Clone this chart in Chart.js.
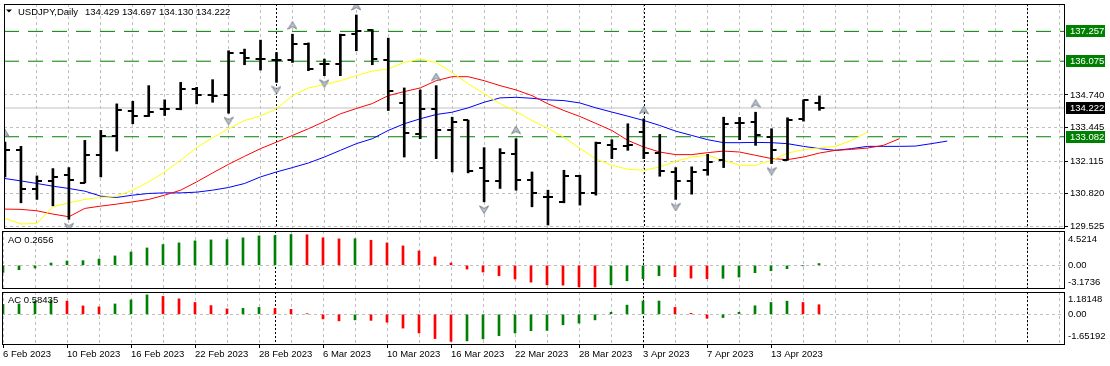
<!DOCTYPE html>
<html>
<head>
<meta charset="utf-8">
<script src="https://cdn.jsdelivr.net/npm/chart.js@4.4.1/dist/chart.umd.min.js"></script>
<style>
  html, body { margin: 0; padding: 0; background: #fff; }
  #wrap { position: relative; width: 1110px; height: 366px; overflow: hidden; }
  #wrap canvas { position: absolute; left: 0; top: 0; }
</style>
</head>
<body>
<div id="wrap">
  <canvas id="price" width="1110" height="366"></canvas>
  <canvas id="ao" width="1110" height="366"></canvas>
  <canvas id="ac" width="1110" height="366"></canvas>
</div>
<script>
// USDJPY daily bars, 6 Feb - 18 Apr 2023
var dates = ['6 Feb 2023', '7 Feb 2023', '8 Feb 2023', '9 Feb 2023', '10 Feb 2023', '13 Feb 2023', '14 Feb 2023', '15 Feb 2023',
  '16 Feb 2023', '17 Feb 2023', '20 Feb 2023', '21 Feb 2023', '22 Feb 2023', '23 Feb 2023', '24 Feb 2023', '27 Feb 2023',
  '28 Feb 2023', '1 Mar 2023', '2 Mar 2023', '3 Mar 2023', '6 Mar 2023', '7 Mar 2023', '8 Mar 2023', '9 Mar 2023',
  '10 Mar 2023', '13 Mar 2023', '14 Mar 2023', '15 Mar 2023', '16 Mar 2023', '17 Mar 2023', '20 Mar 2023', '21 Mar 2023',
  '22 Mar 2023', '23 Mar 2023', '24 Mar 2023', '27 Mar 2023', '28 Mar 2023', '29 Mar 2023', '30 Mar 2023', '31 Mar 2023',
  '3 Apr 2023', '4 Apr 2023', '5 Apr 2023', '6 Apr 2023', '7 Apr 2023', '10 Apr 2023', '11 Apr 2023', '12 Apr 2023',
  '13 Apr 2023', '14 Apr 2023', '17 Apr 2023', '18 Apr 2023'];

var open = [132.200, 132.570, 131.004, 131.320, 131.557, 131.253, 132.373, 133.107, 134.121, 133.923,
  134.170, 134.188, 134.977, 134.740, 134.740, 136.420, 136.180, 136.130, 136.121, 136.752,
  135.950, 135.963, 137.146, 137.316, 136.121, 134.409, 133.174, 134.188, 133.332, 133.726,
  131.860, 131.330, 132.413, 131.359, 130.700, 130.503, 131.517, 130.858, 132.740, 132.700,
  133.265, 132.436, 131.687, 131.320, 131.754, 132.176, 133.620, 133.659, 133.067, 132.176,
  133.793, 134.429];
var high = [132.870, 132.701, 131.529, 131.821, 131.860, 132.937, 133.332, 134.385, 134.488, 135.107,
  134.543, 135.237, 135.040, 135.344, 136.488, 136.555, 136.910, 136.420, 137.146, 136.800,
  136.160, 137.146, 137.908, 137.330, 136.989, 135.016, 134.937, 135.107, 133.856, 133.740,
  132.649, 132.610, 133.004, 131.687, 130.965, 131.754, 131.557, 132.870, 132.965, 133.596,
  133.793, 133.174, 131.860, 131.890, 132.385, 133.856, 133.850, 134.054, 133.399, 133.833,
  134.543, 134.697];
var low = [131.490, 130.464, 130.598, 130.346, 129.809, 131.253, 131.490, 132.515, 133.596, 133.884,
  133.923, 134.150, 134.385, 134.448, 134.014, 135.935, 135.726, 135.237, 136.026, 135.700,
  135.501, 135.501, 136.488, 135.935, 134.121, 132.278, 133.004, 132.215, 131.687, 131.650,
  130.503, 131.032, 130.965, 130.306, 129.584, 130.464, 130.373, 130.768, 132.215, 132.543,
  132.215, 131.517, 130.598, 130.807, 131.557, 131.860, 132.965, 132.740, 132.018, 132.150,
  133.700, 134.130];
var close = [132.570, 131.004, 131.320, 131.490, 131.359, 132.373, 133.107, 134.148, 133.923, 134.054,
  134.190, 134.977, 134.740, 134.712, 136.420, 136.200, 136.150, 136.110, 136.752, 135.766,
  135.970, 137.100, 137.276, 136.144, 134.910, 133.225, 134.188, 133.332, 133.659, 131.726,
  131.330, 132.436, 131.387, 130.858, 130.710, 131.517, 130.858, 132.831, 132.610, 132.750,
  132.452, 131.714, 131.320, 131.687, 132.081, 133.568, 133.640, 133.134, 132.570, 133.754,
  134.520, 134.222];

// Alligator lines (already shifted forward, so they run past the last bar)
var jaw = [131.426, 131.332, 131.229, 131.123, 131.032, 130.925, 130.728, 130.677, 130.768, 130.835,
  130.858, 130.858, 130.886, 130.965, 131.071, 131.229, 131.490, 131.687, 131.860, 132.042,
  132.278, 132.543, 132.807, 133.004, 133.332, 133.596, 133.793, 133.963, 134.054, 134.227,
  134.448, 134.622, 134.645, 134.606, 134.543, 134.515, 134.420, 134.227, 134.060, 133.897,
  133.726, 133.529, 133.304, 133.134, 132.965, 132.847, 132.847, 132.858, 132.847, 132.807,
  132.701, 132.610, 132.543, 132.610, 132.701, 132.701, 132.701, 132.712, 132.807, 132.910];
var teeth = [130.215, 130.204, 130.148, 130.018, 129.912, 130.243, 130.334, 130.413, 130.503, 130.598,
  130.768, 130.965, 131.292, 131.647, 131.990, 132.306, 132.610, 132.870, 133.134, 133.399,
  133.687, 133.990, 134.200, 134.397, 134.712, 134.870, 135.016, 135.304, 135.462, 135.462,
  135.304, 135.107, 134.937, 134.712, 134.385, 134.121, 133.884, 133.610, 133.330, 132.937,
  132.673, 132.476, 132.373, 132.373, 132.452, 132.515, 132.476, 132.346, 132.215, 132.176,
  132.278, 132.436, 132.543, 132.582, 132.633, 132.740, 133.004];
var lips = [129.848, 129.624, 129.651, 130.306, 130.464, 130.598, 130.677, 130.728, 130.965, 131.292,
  131.687, 132.148, 132.649, 133.044, 133.399, 133.726, 133.904, 134.188, 134.712, 135.016,
  135.146, 135.304, 135.501, 135.687, 135.766, 136.026, 136.160, 136.026, 135.620, 135.186,
  134.791, 134.397, 134.081, 133.726, 133.411, 133.056, 132.622, 132.200, 131.951, 131.794,
  131.754, 131.886, 132.109, 132.280, 132.346, 132.148, 131.951, 131.951, 132.148, 132.436,
  132.570, 132.633, 132.701, 132.937, 133.265];

// bars carrying a fractal mark
var fractalUp = [0, 18, 22, 27, 32, 40, 47];
var fractalDown = [4, 14, 17, 20, 30, 34, 42, 48];

var ao = [-1.03, -0.64, -0.39, 0.34, 0.64, 0.69, 0.93, 1.38, 1.96, 2.55,
  3.05, 3.29, 3.59, 3.73, 3.78, 4.03, 4.32, 4.37, 4.5214, 4.48,
  4.03, 3.88, 3.90, 3.68, 3.29, 2.85, 2.11, 1.23, 0.34, -0.54,
  -0.98, -1.52, -2.00, -2.46, -2.85, -2.90, -3.15, -3.1736, -2.85, -2.26,
  -1.96, -1.52, -1.67, -1.87, -1.96, -1.90, -1.72, -1.08, -0.79, -0.49,
  -0.05, 0.2656];
var ac = [0.60, 0.63, 0.80, 0.84, 0.80, 0.51, 0.45, 0.63, 0.88, 1.18148,
  1.09, 0.94, 0.72, 0.53, 0.33, 0.36, 0.42, 0.36, 0.30, 0.04,
  -0.28, -0.40, -0.34, -0.37, -0.48, -0.84, -1.14, -1.48, -1.65192, -1.62,
  -1.50, -1.30, -1.14, -1.00, -0.98, -0.64, -0.54, -0.34, 0.12, 0.56,
  0.80, 0.81, 0.42, 0.06, -0.24, -0.20, 0.12, 0.52, 0.72, 0.80,
  0.72, 0.58435];

var levels = [137.257, 136.075, 133.082];
var bid = 134.222;
var priceTicks = [129.525, 130.820, 132.115, 133.445, 134.740];
var priceTickLabels = ['129.525', '130.820', '132.115', '133.445', '134.740'];
var monthStarts = [17, 40, 64];
var gridTicks = [];
for (var g = 0; g <= 66; g += 2) gridTicks.push(g);
var labelEvery = 4;

var X_MIN = -0.0625, X_MAX = 66.3125;
var FONT = '9.5px "Liberation Sans", Arial, sans-serif';
var GRID = '#c0c0c0';

Chart.defaults.font.family = '"Liberation Sans", Arial, sans-serif';
Chart.defaults.font.size = 9.5;
Chart.defaults.color = '#000';

function tickImage(fromX) {
  var c = document.createElement('canvas');
  c.width = 12; c.height = 2;
  var cx = c.getContext('2d');
  cx.fillStyle = '#000';
  cx.fillRect(fromX, 0, 5, 2);
  return c;
}
var openTick = tickImage(1), closeTick = tickImage(6);

function fractalImage(up) {
  var c = document.createElement('canvas');
  c.width = 10; c.height = up ? 26 : 24;
  var cx = c.getContext('2d');
  cx.beginPath();
  if (up) { cx.moveTo(5, 0.5); cx.lineTo(9.5, 8); cx.lineTo(5, 5.5); cx.lineTo(0.5, 8); }
  else { cx.moveTo(0.5, 16); cx.lineTo(5, 23.5); cx.lineTo(9.5, 16); cx.lineTo(5, 18.5); }
  cx.closePath();
  cx.fillStyle = '#bcc3cb'; cx.fill();
  cx.strokeStyle = '#7b838d'; cx.lineWidth = 1; cx.stroke();
  return c;
}

function labelTickColor(ctx) {
  return ctx.tick && ctx.tick.label ? '#000' : 'rgba(0,0,0,0)';
}

function xAxis(showLabels) {
  return {
    type: 'linear', min: X_MIN, max: X_MAX, offset: false,
    afterBuildTicks: function (s) { s.ticks = gridTicks.map(function (v) { return { value: v }; }); },
    afterFit: function (s) { s.height = showLabels ? 22 : 0; s.paddingLeft = 0; s.paddingRight = 0; },
    grid: { color: GRID, offset: false, drawTicks: showLabels, tickLength: 4, tickColor: labelTickColor },
    border: { display: false, dash: [3, 3] },
    ticks: {
      display: showLabels, autoSkip: false, maxRotation: 0, align: 'start', padding: 1,
      callback: function (v) { return v % labelEvery === 0 && v < dates.length ? dates[v] : ''; }
    }
  };
}

function zeroAxis(min, max) {
  return {
    position: 'right', min: min, max: max,
    afterBuildTicks: function (s) { s.ticks = [{ value: 0 }]; },
    afterFit: function (s) { s.width = 46; s.paddingTop = 0; s.paddingBottom = 0; },
    grid: { color: GRID, drawTicks: false },
    border: { display: false, dash: [3, 3] },
    ticks: { display: false }
  };
}

function histColors(arr) {
  return arr.map(function (v, i) { return i === 0 || v > arr[i - 1] ? '#008000' : '#ff0000'; });
}

function pts(arr) { return arr.map(function (v, i) { return { x: i, y: v }; }); }
function hline(v) { return [{ x: X_MIN, y: v }, { x: X_MAX, y: v }]; }

var mtPanel = {
  id: 'mtPanel',
  beforeDatasetsDraw: function (chart) {
    var a = chart.chartArea, x = chart.scales.x, ctx = chart.ctx;
    ctx.save();
    ctx.strokeStyle = '#000'; ctx.lineWidth = 1; ctx.setLineDash([2, 2]);
    monthStarts.forEach(function (i) {
      var px = Math.round(x.getPixelForValue(i)) + 0.5;
      ctx.beginPath(); ctx.moveTo(px, a.top); ctx.lineTo(px, a.bottom); ctx.stroke();
    });
    ctx.restore();
  },
  afterDraw: function (chart, args, opts) {
    var a = chart.chartArea, y = chart.scales.y, ctx = chart.ctx;
    ctx.save();
    ctx.strokeStyle = '#000'; ctx.lineWidth = 1;
    ctx.strokeRect(a.left + 0.5, a.top + 0.5, a.right - a.left, a.bottom - a.top);
    ctx.font = FONT; ctx.fillStyle = '#000'; ctx.textBaseline = 'middle';
    if (opts.triangle) {
      ctx.beginPath(); ctx.moveTo(6, 9.5); ctx.lineTo(12, 9.5); ctx.lineTo(9, 12.5); ctx.closePath(); ctx.fill();
    }
    (opts.texts || []).forEach(function (t) { ctx.fillText(t.text, t.x, a.top + t.dy); });
    (opts.side || []).forEach(function (s) {
      ctx.textBaseline = s.base;
      ctx.fillText(s.text, a.right + 4, y.getPixelForValue(s.value));
    });
    (opts.boxes || []).forEach(function (b) {
      var py = Math.round(y.getPixelForValue(b.value));
      ctx.fillStyle = b.color; ctx.fillRect(a.right + 2, py - 6, 39, 12);
      ctx.fillStyle = '#fff'; ctx.textBaseline = 'middle';
      ctx.fillText(b.value.toFixed(3), a.right + 6, py + 0.5);
    });
    ctx.restore();
  }
};

var last = open.length - 1;

var priceChart = new Chart(document.getElementById('price'), {
  type: 'bar',
  data: {
    datasets: [
      { type: 'line', data: hline(levels[0]), borderColor: '#008000', borderWidth: 1, borderDash: [15, 9], pointRadius: 0, order: 10 },
      { type: 'line', data: hline(levels[1]), borderColor: '#008000', borderWidth: 1, borderDash: [15, 9], pointRadius: 0, order: 10 },
      { type: 'line', data: hline(levels[2]), borderColor: '#008000', borderWidth: 1, borderDash: [15, 9], pointRadius: 0, order: 10 },
      { type: 'line', data: hline(bid), borderColor: '#c0c0c0', borderWidth: 1, pointRadius: 0, order: 10 },
      { type: 'line', data: pts(jaw), borderColor: '#0000ff', borderWidth: 1, pointRadius: 0, order: 7 },
      { type: 'line', data: pts(teeth), borderColor: '#ff0000', borderWidth: 1, pointRadius: 0, order: 6 },
      { type: 'line', data: pts(lips), borderColor: '#ffff00', borderWidth: 1, pointRadius: 0, order: 5 },
      {
        type: 'bar', order: 2, backgroundColor: '#000', borderWidth: 0, barThickness: 2,
        data: high.map(function (h, i) { return { x: i, y: [low[i], h] }; })
      },
      { type: 'scatter', data: pts(open), pointStyle: openTick, pointRadius: 3, pointBorderWidth: 0, order: 1 },
      { type: 'scatter', data: pts(close), pointStyle: closeTick, pointRadius: 3, pointBorderWidth: 0, order: 1 },
      {
        type: 'scatter', order: 0, pointStyle: fractalImage(true), pointRadius: 3, pointBorderWidth: 0,
        data: fractalUp.map(function (i) { return { x: i, y: high[i] }; })
      },
      {
        type: 'scatter', order: 0, pointStyle: fractalImage(false), pointRadius: 3, pointBorderWidth: 0,
        data: fractalDown.map(function (i) { return { x: i, y: low[i] }; })
      }
    ]
  },
  options: {
    responsive: false, animation: false, devicePixelRatio: 1, events: [],
    layout: { padding: { left: 2, right: 0, top: 3, bottom: 138 } },
    scales: {
      x: xAxis(false),
      y: {
        position: 'right', min: 129.466, max: 138.342,
        afterBuildTicks: function (s) { s.ticks = priceTicks.map(function (v) { return { value: v }; }); },
        afterFit: function (s) { s.width = 46; s.paddingTop = 0; s.paddingBottom = 0; },
        grid: { color: GRID, tickLength: 4, tickColor: labelTickColor },
        border: { display: false, dash: [3, 3] },
        ticks: { autoSkip: false, padding: 2, callback: function (v, i) { return priceTickLabels[i]; } }
      }
    },
    plugins: {
      legend: { display: false }, tooltip: { enabled: false },
      mtPanel: {
        triangle: true,
        texts: [
          { text: 'USDJPY,Daily', x: 18, dy: 8 },
          { text: [open[last], high[last], low[last], close[last]].map(function (v) { return v.toFixed(3); }).join(' '), x: 85, dy: 8 }
        ],
        boxes: [
          { value: levels[0], color: '#008000' },
          { value: levels[1], color: '#008000' },
          { value: levels[2], color: '#008000' },
          { value: bid, color: '#000' }
        ]
      }
    }
  },
  plugins: [mtPanel]
});

var aoMax = Math.max.apply(null, ao), aoMin = Math.min.apply(null, ao);
var aoChart = new Chart(document.getElementById('ao'), {
  type: 'bar',
  data: { datasets: [{ data: pts(ao), backgroundColor: histColors(ao), borderWidth: 0, barThickness: 2 }] },
  options: {
    responsive: false, animation: false, devicePixelRatio: 1, events: [],
    layout: { padding: { left: 2, right: 0, top: 231, bottom: 78 } },
    scales: { x: xAxis(false), y: zeroAxis(-3.320, 5.034) },
    plugins: {
      legend: { display: false }, tooltip: { enabled: false },
      mtPanel: {
        texts: [{ text: 'AO ' + ao[ao.length - 1].toFixed(4), x: 8, dy: 9.5 }],
        side: [
          { value: aoMax, text: aoMax.toFixed(4), base: 'top' },
          { value: 0, text: '0.00', base: 'middle' },
          { value: aoMin, text: aoMin.toFixed(4), base: 'bottom' }
        ]
      }
    }
  },
  plugins: [mtPanel]
});

var acMax = Math.max.apply(null, ac), acMin = Math.min.apply(null, ac);
var acChart = new Chart(document.getElementById('ac'), {
  type: 'bar',
  data: { datasets: [{ data: pts(ac), backgroundColor: histColors(ac), borderWidth: 0, barThickness: 2 }] },
  options: {
    responsive: false, animation: false, devicePixelRatio: 1, events: [],
    layout: { padding: { left: 2, right: 0, top: 292, bottom: 0 } },
    scales: { x: xAxis(true), y: zeroAxis(-1.810, 1.359) },
    plugins: {
      legend: { display: false }, tooltip: { enabled: false },
      mtPanel: {
        texts: [{ text: 'AC ' + ac[ac.length - 1].toFixed(5), x: 8, dy: 8.5 }],
        side: [
          { value: acMax, text: acMax.toFixed(5), base: 'top' },
          { value: 0, text: '0.00', base: 'middle' },
          { value: acMin, text: acMin.toFixed(5), base: 'bottom' }
        ]
      }
    }
  },
  plugins: [mtPanel]
});
</script>
</body>
</html>
